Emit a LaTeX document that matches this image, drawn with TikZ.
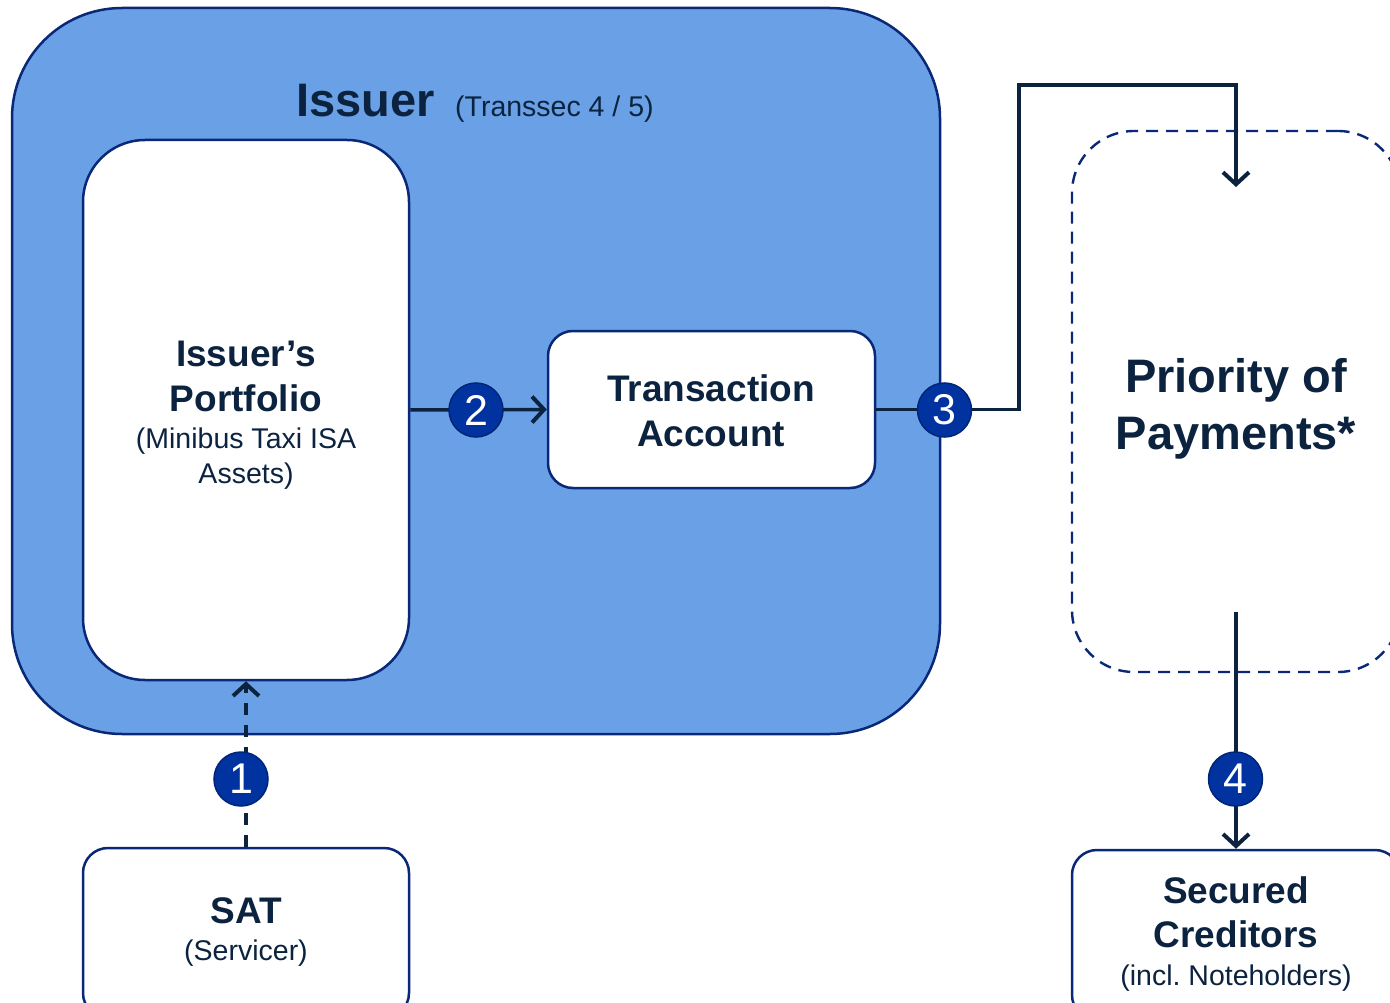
\documentclass[tikz,border=0pt]{standalone}
\usepackage{fontspec}
\setmainfont{Liberation Sans}
\usetikzlibrary{arrows.meta}
\definecolor{navy}{RGB}{12,35,64}
\definecolor{bordblue}{RGB}{10,40,120}
\definecolor{issfill}{RGB}{106,160,230}
\definecolor{circfill}{RGB}{0,51,160}
\definecolor{circbord}{RGB}{0,36,120}
\tikzset{
  box/.style={draw=bordblue, line width=2.5pt, fill=white, inner sep=0pt, rectangle},
  arr/.style={draw=navy, line width=3.5pt, -{Straight Barb[length=12pt,width=26pt,line width=4pt]}},
  num/.style={circle, draw=circbord, line width=1.5pt, fill=circfill, text=white, inner sep=0pt, minimum size=54pt, font=\fontsize{43}{43}\selectfont},
  tb/.style={text=navy, inner sep=0pt, anchor=base, font=\bfseries\fontsize{37}{37}\selectfont},
  tbig/.style={text=navy, inner sep=0pt, anchor=base, font=\bfseries\fontsize{47}{47}\selectfont},
  tr/.style={text=navy, inner sep=0pt, anchor=base, font=\fontsize{28.5}{28.5}\selectfont},
}
\begin{document}
\begin{tikzpicture}[x=1pt,y=-1pt]
\useasboundingbox (0,0) rectangle (1390,1003);
\clip (0,0) rectangle (1390,1003);
% boxes
\node[box, fill=issfill, rounded corners=110pt, minimum width=928pt, minimum height=726pt] (iss) at (476,371) {};
\node[box, rounded corners=62pt, minimum width=326pt, minimum height=540pt] (port) at (246,410) {};
\node[box, rounded corners=25pt, minimum width=327pt, minimum height=157pt] (ta) at (711.5,409.5) {};
\node[box, draw=bordblue, dashed, dash pattern=on 12pt off 8pt, line width=2.4pt, fill=none, rounded corners=62pt, minimum width=328pt, minimum height=541pt] (pop) at (1236,401.5) {};
\node[box, rounded corners=25pt, minimum width=326pt, minimum height=170pt] (sat) at (246,933) {};
\node[box, rounded corners=25pt, minimum width=328pt, minimum height=170pt] (sec) at (1236,935) {};
% texts
\node[tbig, anchor=base west] (tiss) at (296,117) {Issuer};
\node[tr, anchor=base west] (ttrans) at (455,117) {(Transsec 4 / 5)};
\node[tb] (tp1) at (246,366) {Issuer’s};
\node[tb] (tp2) at (246,411) {Portfolio};
\node[tr] (tp3) at (246,448) {(Minibus Taxi ISA};
\node[tr] (tp4) at (246,483) {Assets)};
\node[tb] (tt1) at (711,401) {Transaction};
\node[tb] (tt2) at (711,446) {Account};
\node[tbig] (tq1) at (1236,392) {Priority of};
\node[tbig] (tq2) at (1236,449) {Payments*};
\node[tb] (ts1) at (246,923) {SAT};
\node[tr] (ts2) at (246,960) {(Servicer)};
\node[tb] (tc1) at (1236,903) {Secured};
\node[tb] (tc2) at (1236,947) {Creditors};
\node[tr] (tc3) at (1236,985) {(incl.\ Noteholders)};
% connectors
\coordinate (p3a) at (1019,85);
\coordinate (p3end) at (1236,187);
\coordinate (p4) at (1236,612);
\draw[arr] (port.east) -- (ta.west);
\draw[arr] (ta.east) -| (p3a) -| (p3end);
\draw[arr] (p4) -- (sec.north);
\draw[arr, dash pattern=on 12pt off 10pt] (sat.north) -- (port.south);
% numbers
\node[num] (n1) at (241,779) {1};
\node[num] (n2) at (476,410) {2};
\node[num] (n3) at (944.5,410) {3};
\node[num] (n4) at (1235.5,779) {4};
\end{tikzpicture}
\end{document}
